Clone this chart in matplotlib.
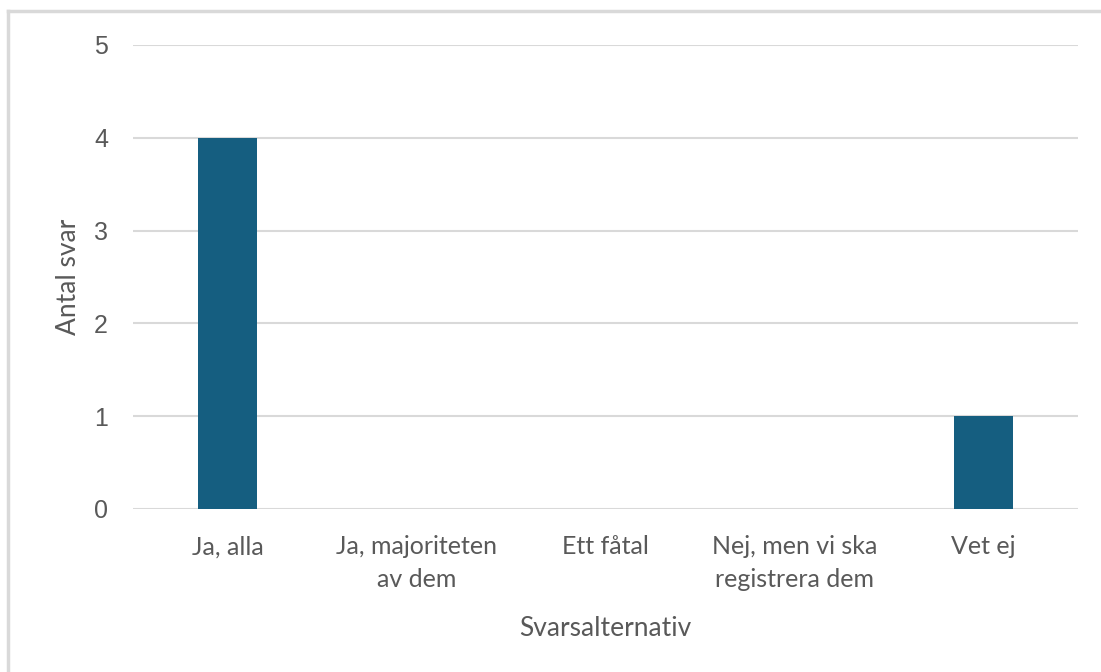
import matplotlib.pyplot as plt
from matplotlib.lines import Line2D

categories = ["Ja, alla", "Ja, majoriteten\nav dem", "Ett fåtal", "Nej, men vi ska\nregistrera dem", "Vet ej"]
values = [4, 0, 0, 0, 1]
yticks = [0, 1, 2, 3, 4, 5]

fig = plt.figure(figsize=(11.01, 6.72), dpi=100)
ax = fig.add_axes([133 / 1101, 1 - 509 / 672, (1078 - 133) / 1101, (509 - 45) / 672])

x = range(len(categories))
ax.bar(x, values, width=0.31, color="#155E80", zorder=3)

ax.set_xlim(-0.5, len(categories) - 0.5)
ax.set_ylim(0, 5)
ax.set_yticks(yticks)
ax.set_xticks(list(x))
ax.set_xticklabels(categories, fontsize=18, color="#595959", family="Lato", linespacing=1.5)
ax.tick_params(axis="y", labelsize=18, labelcolor="#595959", length=0, pad=18)
ax.tick_params(axis="x", length=0, pad=19)
for t in ax.get_yticklabels():
    t.set_family("Liberation Sans")

ax.grid(axis="y", color="#d9d9d9", linewidth=1.5, zorder=0)
for s in ax.spines.values():
    s.set_visible(False)

ax.set_ylabel("Antal svar", fontsize=19, color="#595959", family="Lato", labelpad=9)
ax.set_xlabel("Svarsalternativ", fontsize=19, color="#595959", family="Lato", labelpad=18)

# grey frame round the chart (left and top edges visible)
fx, fy = 7.5 / 1101, 1 - 11 / 672
fig.lines.append(Line2D([fx, fx], [0, fy], transform=fig.transFigure, color="#d9d9d9", linewidth=2.5))
fig.lines.append(Line2D([fx, 1], [fy, fy], transform=fig.transFigure, color="#d9d9d9", linewidth=2.5))

plt.savefig("out.png", format="png", dpi=100)
